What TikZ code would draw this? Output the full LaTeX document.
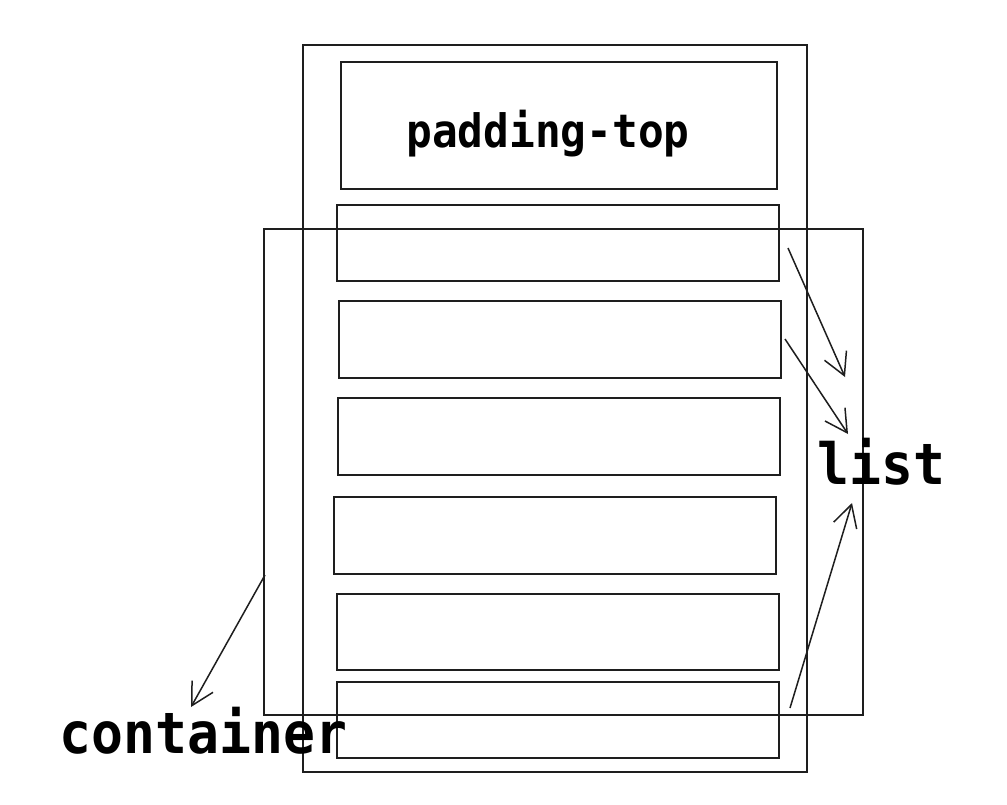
\documentclass[tikz,border=0pt]{standalone}
\usepackage{fontspec}
\setmonofont{DejaVu Sans Mono}
\usetikzlibrary{arrows.meta}
\definecolor{ink}{HTML}{1E1E1E}
\tikzset{
  box/.style={draw=ink, line width=1.5pt, inner sep=0pt, outer sep=0pt, anchor=center},
  lbl/.style={text=black, inner sep=0pt, anchor=base, font=\ttfamily\bfseries},
  conn/.style={draw=ink, line width=1.5pt, -{Straight Barb[length=22pt,width=24pt,line width=1.5pt]}}
}
\begin{document}
\begin{tikzpicture}[x=1pt,y=-1pt]
\useasboundingbox[fill=white] (0,0) rectangle (1007,804);
% outer tall box (list column)
\node[box, minimum width=504pt, minimum height=727pt] (tall) at (555,408.5) {};
% padding-top box
\node[box, minimum width=436pt, minimum height=127pt] (pad) at (559,125.5) {};
% wide box
\node[box, minimum width=599pt, minimum height=486pt] (wide) at (563.5,472) {};
% items
\node[box, minimum width=442pt, minimum height=76pt] (i1) at (558,243) {};
\node[box, minimum width=442pt, minimum height=77pt] (i2) at (560,339.5) {};
\node[box, minimum width=442pt, minimum height=77pt] (i3) at (559,436.5) {};
\node[box, minimum width=442pt, minimum height=77pt] (i4) at (555,535.5) {};
\node[box, minimum width=442pt, minimum height=76pt] (i5) at (558,632) {};
\node[box, minimum width=442pt, minimum height=76pt] (i6) at (558,720) {};
% labels
\node[lbl, font=\fontsize{46}{50}\selectfont\ttfamily\bfseries, xscale=0.93] (ptxt) at (548,147) {padding-top};
\node[lbl, font=\fontsize{57}{60}\selectfont\ttfamily\bfseries, xscale=0.93] (list) at (881.5,484) {list};
\node[lbl, font=\fontsize{57}{60}\selectfont\ttfamily\bfseries, xscale=0.93] (cont) at (203.5,753) {container};
% arrow end points
\coordinate (s1) at (788,248);
\coordinate (t1) at (845,377);
\coordinate (s2) at (785,339);
\coordinate (t2) at (848,434);
\coordinate (s3) at (790,708);
\coordinate (t3) at (852,503);
\coordinate (s4) at (265,575);
\coordinate (t4) at (191,707);
\draw[conn] (s1) -- (t1);
\draw[conn] (s2) -- (t2);
\draw[conn] (s3) -- (t3);
\draw[conn] (s4) -- (t4);
\end{tikzpicture}
\end{document}
